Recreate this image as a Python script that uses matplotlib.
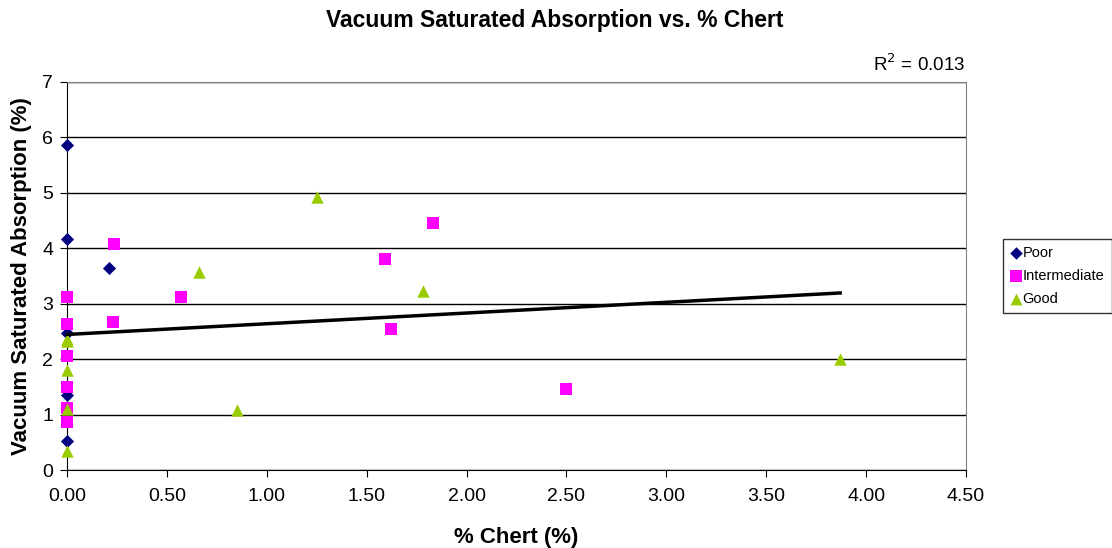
import numpy as np
import matplotlib
matplotlib.use("Agg")
import matplotlib.pyplot as plt

plt.rcParams['font.family'] = ['Liberation Sans', 'DejaVu Sans']

# chert content (%) and vacuum saturated absorption (%) by rating
poor_x = [0.0, 0.0, 0.0, 0.0, 0.0, 0.21]
poor_y = [5.87, 4.17, 2.48, 1.35, 0.53, 3.65]

inter_x = [0.0, 0.0, 0.0, 0.0, 0.0, 0.0, 0.235, 0.23, 0.57, 1.59, 1.83, 1.62, 2.50]
inter_y = [3.12, 2.64, 2.06, 1.49, 1.11, 0.87, 4.08, 2.67, 3.13, 3.80, 4.45, 2.55, 1.47]

good_x = [0.0, 0.0, 0.0, 0.0, 0.0, 0.66, 1.25, 1.78, 0.85, 3.87]
good_y = [2.37, 2.33, 1.80, 1.10, 0.35, 3.57, 4.92, 3.23, 1.08, 2.00]

r2_text = "R$^2$ = 0.013"

fig = plt.figure(figsize=(11.12, 5.48), dpi=100)
ax = fig.add_axes([0.0603, 0.1423, 0.8084, 0.7081])

ax.scatter(poor_x, poor_y, marker='D', s=45, color='#000080', label='Poor',
           zorder=3, linewidths=0, clip_on=False)
ax.scatter(inter_x, inter_y, marker='s', s=75, color='#FF00FF', label='Intermediate',
           zorder=3, linewidths=0, clip_on=False)
ax.scatter(good_x, good_y, marker='^', s=80, color='#99CC00', label='Good',
           zorder=3, linewidths=0, clip_on=False)

# linear trendline over all points
all_x = np.array(poor_x + inter_x + good_x)
all_y = np.array(poor_y + inter_y + good_y)
slope, icpt = np.polyfit(all_x, all_y, 1)
tx = np.array([all_x.min(), all_x.max()])
ax.plot(tx, slope * tx + icpt, color='black', lw=2.5, zorder=4, clip_on=False)

ax.set_xlim(0, 4.5)
ax.set_ylim(0, 7)
ax.set_xticks(np.arange(0, 4.51, 0.5))
ax.set_xticklabels([f"{v:.2f}" for v in np.arange(0, 4.51, 0.5)])
ax.set_yticks(range(0, 8))
ax.grid(axis='y', color='black', lw=1)
ax.set_axisbelow(True)
ax.tick_params(labelsize=14, direction='out', length=5, color='black')
ax.tick_params(axis='x', pad=8)
ax.tick_params(axis='y', pad=5)

for s in ['top', 'right']:
    ax.spines[s].set_color('#808080')
for s in ['left', 'bottom']:
    ax.spines[s].set_color('black')

fig.text(555 / 1112, 1 - 20 / 548, "Vacuum Saturated Absorption vs. % Chert",
         ha='center', va='center', fontsize=16.5, fontweight='bold')
ax.set_xlabel("% Chert (%)", fontsize=16, fontweight='bold', labelpad=16)
ax.set_ylabel("Vacuum Saturated Absorption (%)", fontsize=16, fontweight='bold', labelpad=7)

fig.text(0.868, 0.863, r2_text, ha='right', va='bottom', fontsize=13.5)

leg = ax.legend(loc='center left', bbox_to_anchor=(1.041, 0.5), fontsize=10.5,
                frameon=True, fancybox=False, edgecolor='black', borderpad=0.5,
                handletextpad=0.05, labelspacing=0.6, handlelength=0.8,
                borderaxespad=0, markerscale=0.95)
leg.get_frame().set_linewidth(1)

fig.savefig("out.png", dpi=100)
